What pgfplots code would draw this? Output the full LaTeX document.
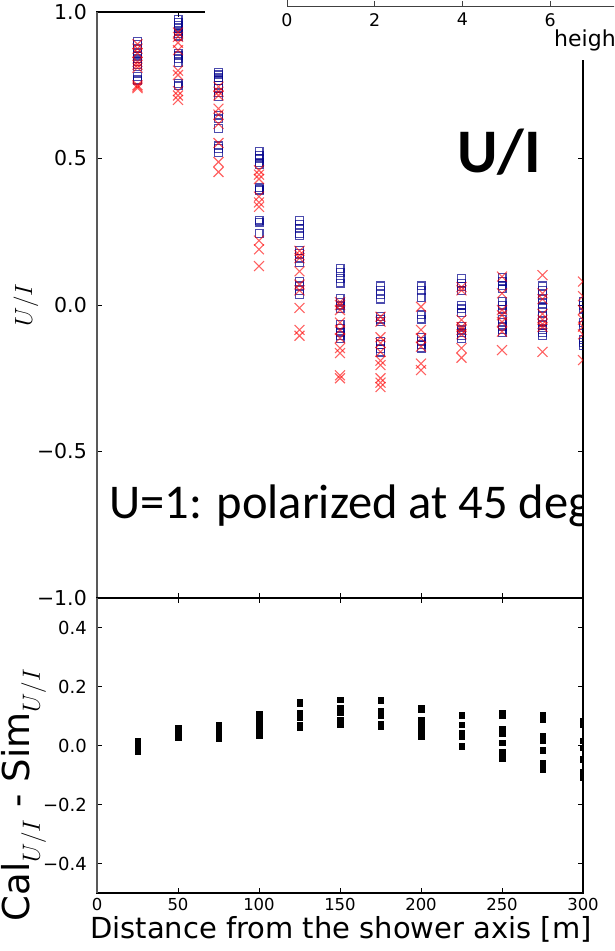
\documentclass[border=0pt]{standalone}
\usepackage{pgfplots}
\pgfplotsset{compat=1.18}
\usepackage{fontspec}
\setmainfont{DejaVu Sans}
\newfontfamily\calibri{Carlito}

\definecolor{calblue}{RGB}{0,0,139}
\definecolor{simred}{RGB}{255,0,0}

\pgfplotsset{
  panel/.style={
    scale only axis,
    clip marker paths=true,
    xmin=0, xmax=300,
    xtick={0,50,...,300},
    tick align=inside,
    major tick length=5pt,
    axis line style={black, line width=1.1pt},
    every tick/.style={black, line width=0.8pt},
    yticklabel style={anchor=east, inner sep=0pt, xshift=-10pt},
    xticklabel style={anchor=north, inner sep=0pt, yshift=-5pt},
  },
  cal/.style={only marks, mark=square, mark size=3.9pt,
    mark options={draw=calblue, line width=1.2pt, draw opacity=0.7}},
  sim/.style={only marks, mark=x, mark size=7pt,
    mark options={draw=simred, line width=1.1pt, draw opacity=0.62}},
  diff/.style={only marks, mark=square*, mark size=2.7pt,
    mark options={draw=black, fill=black, line width=0.4pt}},
}

\begin{document}
\begin{tikzpicture}
\clip (0pt,0pt) rectangle (614pt,-951pt);

% ---------- upper panel: U/I ----------
\begin{axis}[panel,
  at={(97pt,-12pt)}, anchor=north west,
  width=486pt, height=586pt,
  ymin=-1, ymax=1,
  xticklabels={},
  ytick={-1,-0.5,0,0.5,1},
  yticklabels={−1.0,−0.5,0.0,0.5,1.0},
  yticklabel style={font=\fontsize{20.5}{20.5}\selectfont},
]
\addplot[cal] coordinates {
 (25,0.90) (25,0.89) (25,0.875) (25,0.86) (25,0.85) (25,0.84) (25,0.83) (25,0.82) (25,0.815) (25,0.78) (25,0.77) (25,0.765)
 (50,0.975) (50,0.965) (50,0.955) (50,0.945) (50,0.935) (50,0.925) (50,0.918) (50,0.858) (50,0.85) (50,0.84) (50,0.828) (50,0.755) (50,0.748)
 (75,0.795) (75,0.785) (75,0.775) (75,0.765) (75,0.75) (75,0.74) (75,0.725) (75,0.712) (75,0.648) (75,0.635) (75,0.603) (75,0.543) (75,0.535) (75,0.52)
 (100,0.525) (100,0.51) (100,0.50) (100,0.485) (100,0.478) (100,0.40) (100,0.395) (100,0.39) (100,0.29) (100,0.283) (100,0.245)
 (125,0.288) (125,0.275) (125,0.26) (125,0.245) (125,0.237) (125,0.185) (125,0.175) (125,0.16) (125,0.145) (125,0.08) (125,0.065) (125,0.05) (125,0.035)
 (150,0.124) (150,0.11) (150,0.09) (150,0.075) (150,0.022) (150,0.01) (150,0.0) (150,-0.011) (150,-0.066) (150,-0.08) (150,-0.095) (150,-0.105) (150,-0.116)
 (175,0.065) (175,0.05) (175,0.035) (175,0.02) (175,-0.04) (175,-0.048) (175,-0.056) (175,-0.125) (175,-0.135) (175,-0.15) (175,-0.161)
 (200,0.065) (200,0.05) (200,0.026) (200,-0.034) (200,-0.048) (200,-0.11) (200,-0.125) (200,-0.136) (200,-0.147)
 (225,0.09) (225,0.075) (225,0.063) (225,0.049) (225,0.0) (225,-0.013) (225,-0.027) (225,-0.072) (225,-0.085) (225,-0.095) (225,-0.105) (225,-0.114)
 (250,0.093) (250,0.08) (250,0.065) (250,0.055) (250,0.011) (250,0.0) (250,-0.014) (250,-0.049) (250,-0.06) (250,-0.072) (250,-0.083) (250,-0.093)
 (275,0.065) (275,0.05) (275,0.035) (275,0.02) (275,0.005) (275,-0.01) (275,-0.025) (275,-0.04) (275,-0.055) (275,-0.07) (275,-0.085) (275,-0.095) (275,-0.105)
 (300,0.011) (300,0.0) (300,-0.014) (300,-0.059) (300,-0.07) (300,-0.117) (300,-0.128) (300,-0.139)
};
\addplot[sim] coordinates {
 (25,0.89) (25,0.875) (25,0.86) (25,0.83) (25,0.82) (25,0.81) (25,0.75) (25,0.745) (25,0.74)
 (50,0.93) (50,0.915) (50,0.895) (50,0.87) (50,0.80) (50,0.785) (50,0.73) (50,0.715) (50,0.70)
 (75,0.745) (75,0.728) (75,0.715) (75,0.67) (75,0.65) (75,0.618) (75,0.553) (75,0.488) (75,0.454)
 (100,0.46) (100,0.445) (100,0.43) (100,0.37) (100,0.35) (100,0.335) (100,0.22) (100,0.19) (100,0.133)
 (125,0.185) (125,0.17) (125,0.16) (125,0.115) (125,0.07) (125,0.05) (125,-0.01) (125,-0.085) (125,-0.105)
 (150,0.01) (150,0.0) (150,-0.017) (150,-0.06) (150,-0.085) (150,-0.113) (150,-0.147) (150,-0.164) (150,-0.24) (150,-0.25)
 (175,-0.04) (175,-0.057) (175,-0.11) (175,-0.13) (175,-0.16) (175,-0.19) (175,-0.205) (175,-0.25) (175,-0.265) (175,-0.28)
 (200,-0.006) (200,-0.085) (200,-0.113) (200,-0.142) (200,-0.2) (200,-0.222)
 (225,0.061) (225,0.05) (225,-0.051) (225,-0.075) (225,-0.085) (225,-0.1) (225,-0.147) (225,-0.18)
 (250,0.097) (250,0.04) (250,-0.017) (250,-0.035) (250,-0.058) (250,-0.091) (250,-0.154)
 (275,0.102) (275,0.04) (275,0.02) (275,-0.03) (275,-0.05) (275,-0.065) (275,-0.075) (275,-0.16)
 (300,0.08) (300,0.03) (300,-0.017) (300,-0.05) (300,-0.074) (300,-0.1) (300,-0.188)
};
\end{axis}
% left spine drawn in grey
\draw[black!65, line width=1.1pt] (97pt,-12pt) -- (97pt,-598pt);

% annotations inside the upper panel
\begin{scope}
\clip (97.6pt,-12pt) rectangle (582.4pt,-598pt);
\node[anchor=base west, inner sep=0pt, font=\calibri\bfseries\fontsize{62}{62}\selectfont] at (457pt,-172pt) {U/I};
\node[anchor=base west, inner sep=0pt, font=\calibri\fontsize{48.5}{48.5}\selectfont] at (109pt,-518pt) {U=1: polarized at 45 deg};
\end{scope}

% blank strip over the top right corner, holding the height inset
\fill[white] (205pt,1pt) rectangle (615pt,-60pt);
\begin{axis}[
  scale only axis,
  at={(287pt,-6pt)}, anchor=south west,
  width=351pt, height=60pt,
  xmin=0, xmax=8, ymin=0, ymax=1,
  xtick={0,2,4,6}, xticklabels={0,2,4,6}, ytick=\empty,
  tick align=inside, major tick length=5pt,
  axis line style={black!75, line width=1pt},
  every tick/.style={black!75, line width=0.8pt},
  xticklabel style={anchor=north, inner sep=0pt, yshift=-7pt,
    font=\fontsize{17.4}{17.4}\selectfont},
]
\end{axis}
\node[anchor=base west, inner sep=0pt, font=\fontsize{22}{22}\selectfont] at (554pt,-46.5pt) {height};

% ---------- lower panel: residuals ----------
\begin{axis}[panel,
  at={(97pt,-598pt)}, anchor=north west,
  width=486pt, height=295pt,
  ymin=-0.5, ymax=0.5,
  ytick={-0.4,-0.2,0,0.2,0.4},
  yticklabels={−0.4,−0.2,0.0,0.2,0.4},
  xticklabels={0,50,100,150,200,250,300},
  yticklabel style={font=\fontsize{18}{18}\selectfont},
  xticklabel style={font=\fontsize{16.5}{16.5}\selectfont},
]
\addplot[diff] coordinates {
 (25,0.017) (25,0.008) (25,0.0) (25,-0.01) (25,-0.02)
 (50,0.059) (50,0.049) (50,0.038) (50,0.028)
 (75,0.069) (75,0.058) (75,0.047) (75,0.036) (75,0.025)
 (100,0.108) (100,0.095) (100,0.083) (100,0.07) (100,0.058) (100,0.046) (100,0.033)
 (125,0.149) (125,0.142) (125,0.112) (125,0.104) (125,0.096) (125,0.07) (125,0.061)
 (150,0.156) (150,0.129) (150,0.12) (150,0.112) (150,0.086) (150,0.072)
 (175,0.156) (175,0.151) (175,0.119) (175,0.11) (175,0.101) (175,0.072) (175,0.065)
 (200,0.126) (200,0.122) (200,0.087) (200,0.078) (200,0.07) (200,0.06) (200,0.05) (200,0.04) (200,0.03)
 (225,0.104) (225,0.101) (225,0.07) (225,0.044) (225,0.03) (225,0.0) (225,-0.002)
 (250,0.109) (250,0.101) (250,0.055) (250,0.04) (250,0.009) (250,-0.023) (250,-0.044)
 (275,0.103) (275,0.095) (275,0.087) (275,0.031) (275,0.016) (275,-0.016) (275,-0.058) (275,-0.07) (275,-0.08)
 (300,0.084) (300,0.072) (300,0.016) (300,-0.007) (300,-0.046) (300,-0.09) (300,-0.1) (300,-0.108)
};
\end{axis}
\draw[black!65, line width=1.1pt] (97pt,-598pt) -- (97pt,-893pt);

% axis titles
\node[rotate=90, inner sep=0pt, font=\fontsize{31}{31}\selectfont] at (26pt,-305pt) {$U/I$};
\node[rotate=90, inner sep=0pt, font=\fontsize{37}{37}\selectfont] at (24pt,-795pt) {Cal$_{U/I}$ - Sim$_{U/I}$};
\node[anchor=base, inner sep=0pt, font=\fontsize{29}{29}\selectfont] at (341pt,-938pt) {Distance from the shower axis [m]};
\end{tikzpicture}
\end{document}
